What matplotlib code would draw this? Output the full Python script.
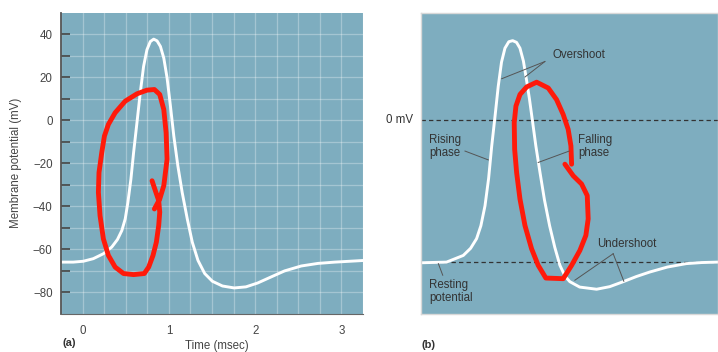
import matplotlib.pyplot as plt

plt.rcParams['font.family'] = ['Liberation Sans', 'DejaVu Sans']

BG = '#7eadbf'
RED = '#ff1a0a'

# (a) action potential, time in msec, membrane potential in mV
t_a = [-0.253, -0.109, 0.008, 0.124, 0.241, 0.338, 0.404, 0.455, 0.494, 0.525,
       0.560, 0.591, 0.630, 0.668, 0.707, 0.746, 0.785, 0.824, 0.863, 0.902,
       0.941, 0.979, 1.018, 1.057, 1.104, 1.154, 1.213, 1.271, 1.337, 1.415,
       1.504, 1.621, 1.757, 1.893, 2.029, 2.184, 2.340, 2.534, 2.728, 2.923, 3.272]
v_a = [-65.9, -65.9, -65.5, -64.3, -62.0, -58.9, -55.4, -51.2, -45.8, -38.1,
       -27.3, -15.0, -1.1, 12.7, 25.1, 32.8, 36.6, 37.7, 36.9, 34.3,
       28.9, 19.7, 6.6, -7.3, -21.2, -33.5, -45.8, -56.6, -65.1, -71.2,
       -74.8, -77.0, -77.9, -77.4, -75.6, -72.8, -70.0, -67.7, -66.5, -65.9, -65.1]

# red hand-drawn loop on (a)
red_ta = [0.832, 0.894, 0.941, 0.979, 0.968, 0.941, 0.894, 0.832, 0.746, 0.630,
          0.494, 0.377, 0.299, 0.253, 0.222, 0.190, 0.183, 0.202, 0.241, 0.299,
          0.377, 0.474, 0.591, 0.715, 0.766, 0.816, 0.855, 0.882, 0.894, 0.882,
          0.843, 0.805]
red_va = [-41.2, -36.6, -30.4, -18.1, -5.8, 5.0, 12.0, 14.3, 14.0, 12.3,
          8.9, 3.5, -1.9, -7.3, -15.0, -24.3, -33.5, -44.3, -55.1, -62.8,
          -68.2, -71.2, -71.7, -71.2, -68.2, -62.8, -56.6, -48.9, -42.7, -37.3,
          -32.7, -28.1]

# (b) schematic action potential
t_b = [-0.25, 0.05, 0.245, 0.33, 0.40, 0.45, 0.498, 0.54, 0.576, 0.615,
       0.652, 0.69, 0.73, 0.775, 0.82, 0.865, 0.905, 0.945, 0.98, 1.015,
       1.048, 1.09, 1.137, 1.19, 1.25, 1.31, 1.37, 1.43, 1.486, 1.6,
       1.797, 1.95, 2.106, 2.26, 2.416, 2.62, 2.84, 3.02, 3.21]
v_b = [-66.2, -65.9, -62.8, -59.5, -55.0, -49.0, -39.7, -27.0, -12.0, 2.0,
       15.8, 27.0, 33.5, 36.5, 37.0, 36.2, 33.5, 27.5, 19.0, 10.0,
       0.4, -12.0, -24.0, -37.0, -49.0, -59.0, -67.4, -72.5, -75.0, -77.5,
       -78.5, -77.3, -75.0, -72.6, -70.5, -68.2, -66.6, -66.1, -65.9]

red_tb = [1.506, 1.498, 1.466, 1.408, 1.331, 1.234, 1.099, 0.983, 0.905, 0.858,
          0.838, 0.843, 0.866, 0.905, 0.963, 1.040, 1.117, 1.206, 1.408, 1.506,
          1.602, 1.672, 1.699, 1.688, 1.622, 1.525, 1.428]
red_vb = [-20.4, -11.9, -4.2, 2.7, 9.6, 15.0, 17.7, 15.5, 12.0, 6.6,
          -1.1, -13.5, -24.3, -36.6, -48.9, -59.7, -67.4, -73.3, -73.6, -67.4,
          -60.5, -53.5, -45.8, -35.0, -29.6, -25.8, -20.4]

rest_mv = -66
yticks = [-80, -60, -40, -20, 0, 20, 40]
xticks = [0, 1, 2, 3]

fig = plt.figure(figsize=(7.18, 3.52), dpi=100)

# ---- panel (a)
ax = fig.add_axes([0.085, 0.108, 0.4206, 0.856])
ax.set_facecolor(BG)
ax.set_xlim(-0.25, 3.25)
ax.set_ylim(-90, 50)
ax.set_xticks(xticks)
ax.set_xticks([x / 4 for x in range(-1, 14)], minor=True)
ax.set_yticks(yticks)
ax.set_yticks(range(-80, 41, 10), minor=True)
ax.grid(True, which='both', color='white', alpha=0.3, lw=0.9)
ax.set_axisbelow(True)
ax.tick_params(axis='y', which='both', direction='in', length=6.5, width=1.2,
               color='#444', labelsize=8.3, labelcolor='#444', pad=6)
ax.tick_params(axis='x', which='both', length=0, labelsize=8.3,
               labelcolor='#444', pad=8)
for s in ['top', 'right']:
    ax.spines[s].set_visible(False)
ax.spines['left'].set_color('#555')
ax.spines['left'].set_linewidth(1.3)
ax.spines['bottom'].set_color('#666')
ax.set_yticklabels([str(v).replace('-', '\u2212') for v in yticks])

ax.plot(t_a, v_a, color='white', lw=2.1, solid_capstyle='round')
ax.plot(red_ta, red_va, color=RED, lw=3.5, solid_joinstyle='round',
        solid_capstyle='round')

ax.set_ylabel('Membrane potential (mV)', fontsize=8.3, color='#444')
ax.yaxis.set_label_coords(-0.13, 0.5)
ax.set_xlabel('Time (msec)', fontsize=8.3, color='#444')
ax.xaxis.set_label_coords(0.516, -0.085)
fig.text(63 / 718, 1 - 343 / 352, '(a)', fontsize=8, fontweight='bold',
         color='#333', va='center')

# ---- panel (b)
bx = fig.add_axes([0.586, 0.108, 0.414, 0.856])
bx.set_facecolor(BG)
bx.set_xlim(-0.25, 3.21)
bx.set_ylim(-90, 50)
bx.set_xticks([])
bx.set_yticks([])
for s in bx.spines.values():
    s.set_color('#d8d8d8')
    s.set_linewidth(1.0)

bx.axhline(0, color='#333', lw=0.9, ls=(0, (3.5, 2.5)))
bx.axhline(rest_mv, color='#333', lw=0.9, ls=(0, (3.5, 2.5)))
bx.plot(t_b, v_b, color='white', lw=2.1)
bx.plot(red_tb, red_vb, color=RED, lw=3.5, solid_joinstyle='round',
        solid_capstyle='round')

tc = '#333'
fs = 8.3
lead = dict(color='#555', lw=0.7)
bx.text(-0.34, 0, '0 mV', ha='right', va='center', fontsize=fs, color=tc,
        clip_on=False)

bx.text(1.288, 30.4, 'Overshoot', ha='left', va='center', fontsize=fs, color=tc)
bx.plot([1.195, 0.692], [27.3, 19.3], **lead)
bx.plot([1.195, 0.963], [27.3, 20.1], **lead)

bx.text(-0.153, -12.3, 'Rising\nphase', ha='left', va='center', fontsize=fs,
        color=tc, linespacing=1.1)
bx.plot([0.265, 0.536], [-14.3, -18.4], **lead)

bx.text(1.579, -12.3, 'Falling\nphase', ha='left', va='center', fontsize=fs,
        color=tc, linespacing=1.1)
bx.plot([1.478, 1.117], [-14.3, -19.6], **lead)

bx.text(1.80, -57.4, 'Undershoot', ha='left', va='center', fontsize=fs, color=tc)
bx.plot([1.99, 1.544], [-62.0, -74.3], **lead)
bx.plot([1.99, 2.114], [-62.0, -74.8], **lead)

bx.text(-0.153, -79.5, 'Resting\npotential', ha='left', va='center',
        fontsize=fs, color=tc, linespacing=1.1)
bx.plot([0.006, -0.045], [-72.0, -66.6], **lead)

fig.text(421.7 / 718, 1 - 345 / 352, '(b)', fontsize=8, fontweight='bold',
         color='#333', va='center')

fig.savefig('out.png', dpi=100)
